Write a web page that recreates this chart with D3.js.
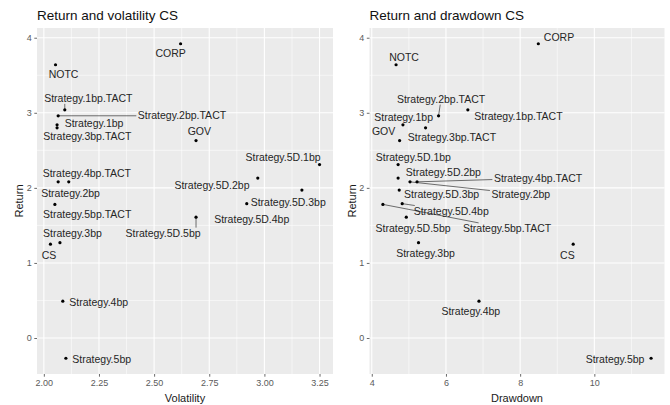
<!DOCTYPE html>
<html><head><meta charset="utf-8">
<script src="https://cdn.jsdelivr.net/npm/d3@7"></script>
<style>body{margin:0;background:#fff} svg{display:block;font-family:"Liberation Sans",Arial,sans-serif}</style>
</head><body><svg id="c" width="670" height="405"></svg>
<script>
// ---- data ----
const names = ["CORP","NOTC","Strategy.1bp.TACT","Strategy.2bp.TACT","Strategy.1bp","Strategy.3bp.TACT","GOV",
  "Strategy.5D.1bp","Strategy.5D.2bp","Strategy.4bp.TACT","Strategy.2bp","Strategy.5D.3bp","Strategy.5bp.TACT",
  "Strategy.5D.4bp","Strategy.5D.5bp","Strategy.3bp","CS","Strategy.4bp","Strategy.5bp"];
const returns =    [3.92, 3.64, 3.04, 2.96, 2.84, 2.80, 2.63, 2.31, 2.13, 2.08, 2.08, 1.97, 1.78, 1.79, 1.61, 1.27, 1.25, 0.49, -0.27];
const volatility = [2.62, 2.053, 2.095, 2.065, 2.06, 2.06, 2.69, 3.25, 2.97, 2.113, 2.065, 3.17, 2.05, 2.92, 2.69, 2.073, 2.03, 2.086, 2.10];
const drawdown =   [8.49, 4.655, 6.59, 5.80, 4.84, 5.45, 4.75, 4.71, 4.71, 5.22, 5.03, 4.74, 4.30, 4.82, 4.93, 5.26, 9.43, 6.89, 11.53];
const volTicks = [2.00, 2.25, 2.50, 2.75, 3.00, 3.25];
const ddTicks = [4, 6, 8, 10];
const returnTicks = [0, 1, 2, 3, 4];

// ---- label layout (repel result, pixel offsets from point; seg: 0 none, 1 toward centre, 2 nearest) ----
const volLabelDx = [-10, 8, 23.5, 123.8, 37, 30.3, 3.3, -36.5, -45.8, 18.1, 12.4, -13.7, 32.3, 5, -33, 12.5, -1.5, 35.9, 35.8];
const volLabelDy = [9.5, 10, -11.4, 0, -1.7, 9, -9, -7, 7.3, -8.7, 11, 12.3, 10, 15.3, 16, -9, 10.7, 1.6, 0.7];
const volSeg =     [0, 0, 2, 1, 0, 0, 0, 0, 0, 0, 0, 0, 0, 0, 2, 0, 0, 0, 0];
const ddLabelDx = [20.7, 8, 50.6, 2.5, 0.7, 26.4, -16, 15.3, 45.3, 121, 110.8, 42.4, 124.2, 49, 6.8, 7, -5.8, -8.2, -36];
const ddLabelDy = [-6.6, -7.7, 6.7, -16.7, -7.6, 9.6, -9, -7.3, -5.6, -3.7, 12, 4, 24, 7.4, 11.5, 10.7, 11, 10, 0.7];
const ddSeg =     [0, 0, 0, 1, 0, 0, 0, 0, 0, 1, 1, 0, 1, 1, 0, 0, 0, 0, 0];

const svg = d3.select("#c");
const plotTop = 28, plotBottom = 374;

function expand(ext){ const r = ext[1]-ext[0]; return [ext[0]-0.05*r, ext[1]+0.05*r]; }
function minors(ticks, dom){
  const s = ticks[1]-ticks[0], out = [];
  for (let v = ticks[0]-s/2; v <= dom[1]; v += s) if (v >= dom[0]) out.push(v);
  return out;
}

function panel(cfg){
  const g = svg.append("g");
  const x = d3.scaleLinear().domain(expand(d3.extent(cfg.xVals))).range([cfg.x0, cfg.x1]);
  const y = d3.scaleLinear().domain(expand(d3.extent(returns))).range([plotBottom, plotTop]);
  g.append("rect").attr("x", cfg.x0).attr("y", plotTop).attr("width", cfg.x1-cfg.x0).attr("height", plotBottom-plotTop).attr("fill", "#EBEBEB");
  minors(cfg.xTicks, x.domain()).forEach(v => g.append("line").attr("x1", x(v)).attr("x2", x(v)).attr("y1", plotTop).attr("y2", plotBottom).attr("stroke", "#fff").attr("stroke-width", 0.55));
  minors(returnTicks, y.domain()).forEach(v => g.append("line").attr("x1", cfg.x0).attr("x2", cfg.x1).attr("y1", y(v)).attr("y2", y(v)).attr("stroke", "#fff").attr("stroke-width", 0.55));
  cfg.xTicks.forEach(v => g.append("line").attr("x1", x(v)).attr("x2", x(v)).attr("y1", plotTop).attr("y2", plotBottom).attr("stroke", "#fff").attr("stroke-width", 1.1));
  returnTicks.forEach(v => g.append("line").attr("x1", cfg.x0).attr("x2", cfg.x1).attr("y1", y(v)).attr("y2", y(v)).attr("stroke", "#fff").attr("stroke-width", 1.1));
  const xa = g.append("g").attr("transform", `translate(0,${plotBottom})`)
    .call(d3.axisBottom(x).tickValues(cfg.xTicks).tickFormat(cfg.fmt).tickSize(2.7).tickPadding(2.5));
  const ya = g.append("g").attr("transform", `translate(${cfg.x0},0)`)
    .call(d3.axisLeft(y).tickValues(returnTicks).tickFormat(d3.format("d")).tickSize(2.7).tickPadding(2.5));
  [xa, ya].forEach(a => {
    a.select(".domain").remove();
    a.selectAll("line").attr("stroke", "#444").attr("stroke-width", 0.8);
    a.selectAll("text").attr("fill", "#5a5a5a").attr("font-size", 9).attr("font-family", "Liberation Sans, Arial, sans-serif");
  });
  g.append("text").attr("x", cfg.x0).attr("y", 20).attr("font-size", 13.5).attr("fill", "#111").text(cfg.title);
  g.append("text").attr("x", (cfg.x0+cfg.x1)/2).attr("y", 402).attr("text-anchor", "middle").attr("font-size", 11).attr("fill", "#1a1a1a").text(cfg.xTitle);
  g.append("text").attr("transform", `translate(${cfg.x0-14},${(plotTop+plotBottom)/2}) rotate(-90)`).attr("text-anchor", "middle").attr("font-size", 11).attr("fill", "#1a1a1a").text("Return");
  const segG = g.append("g"), labG = g.append("g"), ptG = g.append("g");
  names.forEach((n, i) => {
    const px = x(cfg.xVals[i]), py = y(returns[i]);
    const cx = px + cfg.dx[i], cy = py + cfg.dy[i];
    const t = labG.append("text").attr("x", cx).attr("y", cy).attr("dy", "0.35em").attr("text-anchor", "middle")
      .attr("font-size", 10.5).attr("fill", "#262626").text(n);
    if (cfg.seg[i]) {
      const w = t.node().getComputedTextLength();
      const bx0 = cx - w/2 - 1.5, bx1 = cx + w/2 + 1.5, by0 = cy - 5.5, by1 = cy + 5.5;
      let ex, ey;
      if (cfg.seg[i] === 2) {
        ex = Math.max(bx0, Math.min(bx1, px)); ey = Math.max(by0, Math.min(by1, py));
      } else {
        const ddx = cx - px, ddy = cy - py;
        const tx = ddx > 0 ? (bx0 - px)/ddx : ddx < 0 ? (bx1 - px)/ddx : 0;
        const ty = ddy > 0 ? (by0 - py)/ddy : ddy < 0 ? (by1 - py)/ddy : 0;
        const te = Math.max(0, Math.min(1, Math.max(tx, ty)));
        ex = px + ddx*te; ey = py + ddy*te;
      }
      segG.append("line").attr("x1", px).attr("y1", py).attr("x2", ex).attr("y2", ey).attr("stroke", "#333").attr("stroke-width", 0.7);
    }
    ptG.append("circle").attr("cx", px).attr("cy", py).attr("r", 1.6).attr("fill", "#000");
  });
}

panel({xVals: volatility, xTicks: volTicks, fmt: d3.format(".2f"), x0: 37, x1: 333,
  title: "Return and volatility CS", xTitle: "Volatility", dx: volLabelDx, dy: volLabelDy, seg: volSeg});
panel({xVals: drawdown, xTicks: ddTicks, fmt: d3.format("d"), x0: 369.5, x1: 664.5,
  title: "Return and drawdown CS", xTitle: "Drawdown", dx: ddLabelDx, dy: ddLabelDy, seg: ddSeg});
</script></body></html>
